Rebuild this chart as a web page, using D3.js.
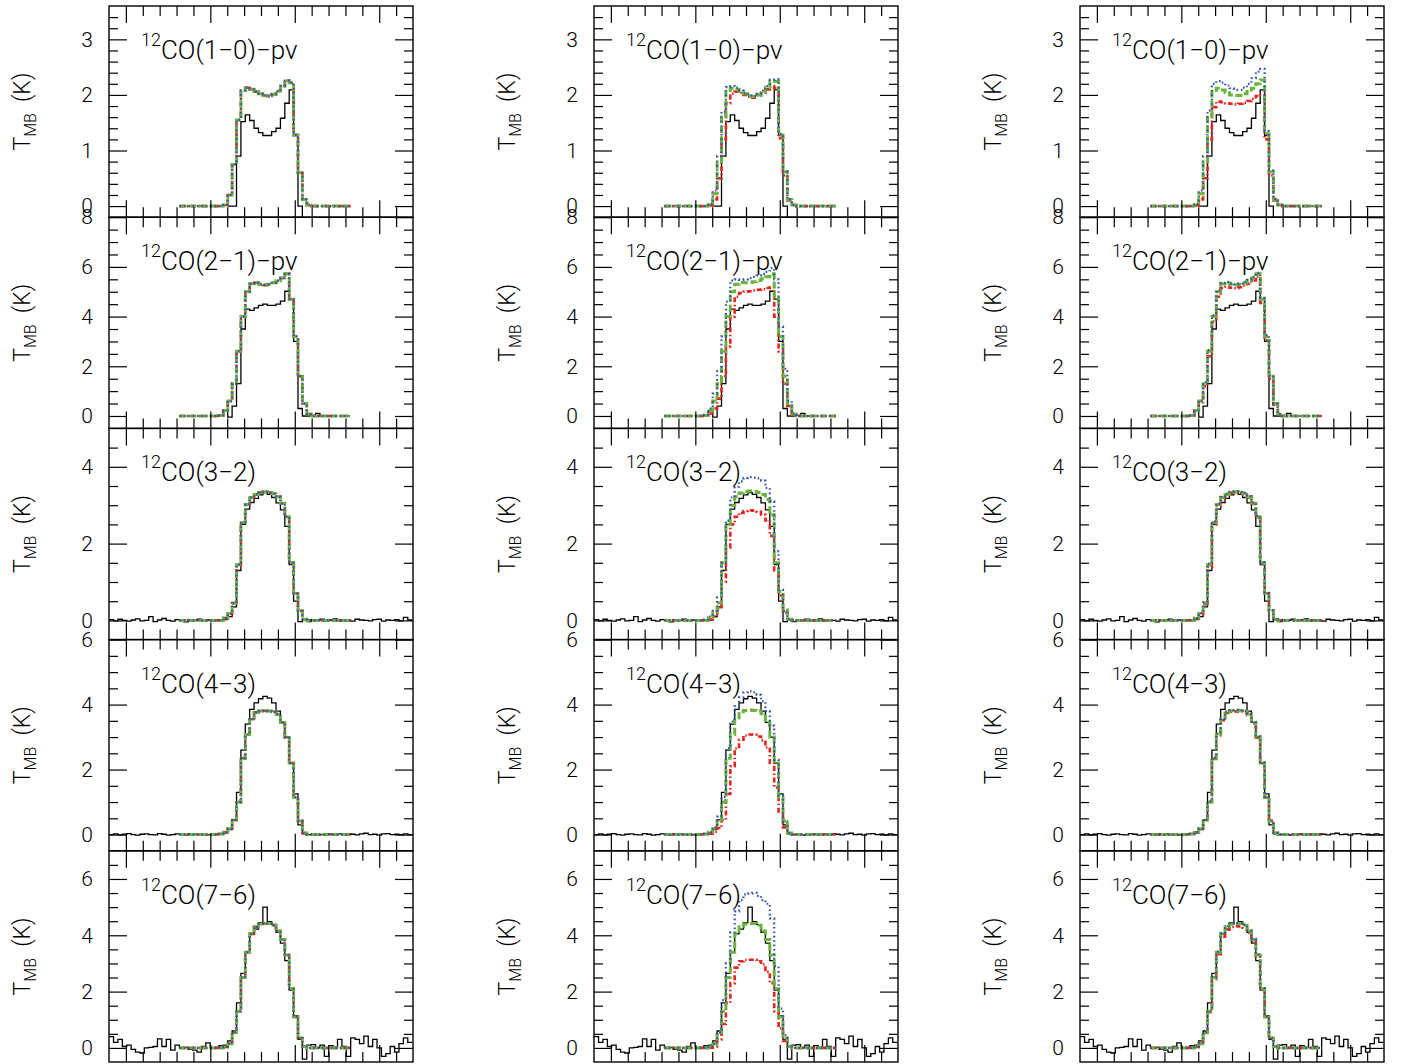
<!DOCTYPE html>
<html><head><meta charset="utf-8">
<script src="https://cdn.jsdelivr.net/npm/d3@7"></script>
<style>
body{margin:0;background:#fff}
svg{display:block}
text{font-family:Roboto,"Liberation Sans",Arial,sans-serif;font-weight:300;fill:#000}
</style>
</head><body>
<svg id="chart" width="1405" height="1064"></svg>
<script>
// ---------------- data ----------------
const rowTransitions = ["1\u22120","2\u22121","3\u22122","4\u22123","7\u22126"];
const rowSuffix = ["\u2212pv","\u2212pv","","",""];
const yDomains = [[-0.2,3.6],[-0.5,8],[-0.5,5],[-0.5,6],[-0.5,7]];
const yMajorTicks = [[0,1,2,3],[0,2,4,6,8],[0,2,4],[0,2,4,6],[0,2,4,6]];
const yMinorStep = [0.2,0.5,0.5,0.5,0.5];
const xDomain = [-12,24];
const xMajorTicks = [-10,0,10,20];
const xMinorTicks = [-8,-6,-4,-2,2,4,6,8,12,14,16,18,22];
const chanWidth = 0.52;
const obsStart = [2.32, 0.76, -11.72, -11.72, -11.72];
const modelStart = -3.4;

// observed spectra (black histograms), shared by the three columns
const obs10 = [0,0,0.90,1.52,1.64,1.54,1.40,1.32,1.27,1.27,1.34,1.40,1.58,1.85,2.09,1.27,0,-0.5];
const obs21 = [0,0.02,0.20,-0.05,0.40,1.30,3.50,4.30,4.25,4.35,4.45,4.50,4.45,4.45,4.50,4.62,5.02,4.70,3.00,0.30,0,0,0.02,0.10,0];
const obs32 = [0.02,-0.01,0.03,0.00,-0.02,0.01,0.04,-0.01,0.00,0.10,-0.03,0.01,0.05,0.00,-0.02,0.02,0.01,-0.04,0.02,0.00,0.03,-0.01,0.01,-0.02,0.02,0.00,
  0.02,0.10,0.35,1.30,2.50,2.90,3.07,3.18,3.27,3.33,3.28,3.20,3.06,2.88,2.45,1.45,0.50,-0.03,0.02,
  -0.03,0.02,0.00,0.03,-0.02,0.01,0.04,-0.01,0.02,0.00,-0.02,0.03,0.01,0.00,-0.01,0.02,0.03,-0.02,0.01,0.00,0.02,-0.01,0.08,0.01];
const obs43 = [0.00,0.02,-0.01,0.01,0.03,0.00,-0.02,0.01,0.02,0.00,-0.01,0.03,0.01,-0.02,0.00,0.02,0.01,-0.01,0.03,0.02,0.00,0.01,-0.01,0.02,0.03,0.02,
  0.05,0.15,0.45,1.30,2.60,3.40,3.85,4.05,4.18,4.25,4.20,4.05,3.80,3.45,3.00,2.20,1.25,0.30,0.02,
  0.00,0.01,-0.02,0.00,0.02,0.01,-0.01,0.02,0.00,0.03,0.01,-0.01,0.02,0.04,0.00,0.01,-0.02,0.02,0.03,0.00,0.01,-0.01,0.02,0.00];
const obs76 = [0.40,0.20,0.30,0.05,0.10,-0.05,-0.15,-0.18,0.00,0.02,0.05,0.32,0.05,0.30,-0.08,0.10,0.00,0.02,-0.05,-0.08,-0.15,0.05,0.18,0.00,0.02,0.08,
  0.10,0.25,0.60,1.60,2.65,3.40,4.05,4.22,4.45,5.00,4.48,4.38,4.10,3.72,3.10,2.05,1.15,0.30,-0.40,
  0.10,0.12,0.00,0.10,-0.30,0.08,0.02,0.30,0.05,-0.30,0.36,0.30,0.15,0.42,0.05,0.30,0.00,-0.30,-0.20,0.05,-0.15,0.15,0.36,0.20];

// model spectra (39 channels from modelStart)
const co10Left  = [0,0,0,0,0,0,0,0,0, 0,0.02,0.20,0.75,1.55,2.08,2.13,2.10,2.06,2.02,1.99,1.98,2.01,2.07,2.16,2.26,2.22,1.28,0.60,0.12,0.02,0, 0,0,0,0,0,0,0,0];
const co10MidR  = [0,0,0,0,0,0,0,0,0, 0,0.01,0.12,0.50,1.20,1.85,2.02,2.06,2.04,2.00,1.97,1.95,1.99,2.04,2.10,2.16,2.12,1.22,0.55,0.10,0.02,0, 0,0,0,0,0,0,0,0];
const co10MidG  = [0,0,0,0,0,0,0,0,0, 0,0.03,0.22,0.80,1.60,2.08,2.12,2.10,2.06,2.02,1.98,1.97,2.00,2.06,2.14,2.24,2.24,1.28,0.62,0.12,0.02,0, 0,0,0,0,0,0,0,0];
const co10MidB  = [0,0,0,0,0,0,0,0,0, 0,0.04,0.28,0.90,1.70,2.14,2.16,2.13,2.08,2.03,1.99,1.98,2.02,2.08,2.16,2.27,2.28,1.30,0.62,0.12,0.02,0, 0,0,0,0,0,0,0,0];
const co10RgtR  = [0,0,0,0,0,0,0,0,0, 0,0.01,0.12,0.50,1.20,1.78,1.88,1.87,1.85,1.84,1.83,1.84,1.86,1.89,1.93,1.98,2.00,1.20,0.55,0.10,0.02,0, 0,0,0,0,0,0,0,0];
const co10RgtG  = [0,0,0,0,0,0,0,0,0, 0,0.03,0.22,0.80,1.60,2.05,2.12,2.09,2.04,2.00,1.99,1.99,2.02,2.06,2.12,2.20,2.27,1.30,0.62,0.12,0.02,0, 0,0,0,0,0,0,0,0];
const co10RgtB  = [0,0,0,0,0,0,0,0,0, 0,0.04,0.28,0.90,1.72,2.20,2.25,2.22,2.17,2.12,2.09,2.09,2.13,2.20,2.30,2.42,2.47,1.35,0.64,0.13,0.02,0, 0,0,0,0,0,0,0,0];

const co21Left  = [0,0,0,0,0,0,0,0,0, 0.02,0.22,0.60,1.30,2.60,4.00,5.00,5.32,5.36,5.30,5.27,5.30,5.36,5.44,5.55,5.72,4.70,3.20,1.60,0.50,0.08,0, 0,0,0,0,0,0,0,0];
const co21MidR  = [0,0,0,0,0,0,0,0,0, 0.01,0.10,0.30,0.70,1.60,2.80,4.00,4.80,4.95,5.00,5.02,5.05,5.08,5.10,5.15,5.18,4.00,2.60,1.30,0.40,0.05,0, 0,0,0,0,0,0,0,0];
const co21MidG  = [0,0,0,0,0,0,0,0,0, 0.02,0.22,0.60,1.30,2.60,4.00,5.00,5.30,5.37,5.36,5.37,5.40,5.45,5.52,5.60,5.72,4.80,3.20,1.60,0.50,0.08,0, 0,0,0,0,0,0,0,0];
const co21MidB  = [0,0,0,0,0,0,0,0,0, 0.05,0.30,0.90,1.80,3.20,4.60,5.45,5.50,5.48,5.50,5.55,5.60,5.65,5.72,5.80,5.95,5.50,3.60,1.90,0.60,0.10,0, 0,0,0,0,0,0,0,0];
const co21RgtR  = [0,0,0,0,0,0,0,0,0, 0.02,0.20,0.55,1.20,2.40,3.80,4.80,5.15,5.20,5.16,5.14,5.18,5.24,5.32,5.45,5.62,4.55,3.05,1.50,0.45,0.07,0, 0,0,0,0,0,0,0,0];
const co21RgtG  = [0,0,0,0,0,0,0,0,0, 0.02,0.22,0.60,1.30,2.60,4.00,5.00,5.32,5.36,5.30,5.27,5.30,5.36,5.44,5.55,5.72,4.70,3.20,1.60,0.50,0.08,0, 0,0,0,0,0,0,0,0];
const co21RgtB  = [0,0,0,0,0,0,0,0,0, 0.02,0.23,0.62,1.35,2.65,4.05,5.05,5.36,5.40,5.34,5.30,5.33,5.40,5.48,5.60,5.76,4.75,3.25,1.62,0.50,0.08,0, 0,0,0,0,0,0,0,0];

const co32Left  = [0,0,0,0,0,0,0,0,0, 0,0.06,0.18,0.45,1.45,2.55,3.02,3.20,3.28,3.33,3.35,3.33,3.30,3.22,3.05,2.70,1.50,0.70,0.25,0.03,0,0, 0,0,0,0,0,0,0,0];
const co32MidR  = [0,0,0,0,0,0,0,0,0, 0,0.02,0.10,0.30,1.00,1.90,2.50,2.70,2.80,2.85,2.87,2.86,2.83,2.75,2.60,2.20,1.30,0.65,0.20,0.02,0,0, 0,0,0,0,0,0,0,0];
const co32MidG  = [0,0,0,0,0,0,0,0,0, 0,0.07,0.20,0.45,1.50,2.50,3.00,3.22,3.32,3.36,3.37,3.36,3.33,3.28,3.15,2.75,1.50,0.75,0.28,0.03,0,0, 0,0,0,0,0,0,0,0];
const co32MidB  = [0,0,0,0,0,0,0,0,0, 0.02,0.10,0.25,0.60,1.50,2.60,3.20,3.48,3.62,3.71,3.73,3.72,3.70,3.64,3.45,3.10,1.80,0.80,0.25,0.03,0,0, 0,0,0,0,0,0,0,0];
const co32RgtR  = [0,0,0,0,0,0,0,0,0, 0,0.05,0.16,0.42,1.40,2.50,2.98,3.18,3.27,3.32,3.34,3.32,3.28,3.20,3.03,2.68,1.48,0.70,0.25,0.03,0,0, 0,0,0,0,0,0,0,0];
const co32RgtG  = [0,0,0,0,0,0,0,0,0, 0,0.06,0.18,0.45,1.45,2.55,3.02,3.20,3.28,3.33,3.35,3.33,3.30,3.22,3.05,2.70,1.50,0.70,0.25,0.03,0,0, 0,0,0,0,0,0,0,0];
const co32RgtB  = [0,0,0,0,0,0,0,0,0, 0,0.06,0.19,0.47,1.48,2.58,3.04,3.22,3.30,3.35,3.36,3.35,3.32,3.24,3.07,2.72,1.52,0.72,0.26,0.03,0,0, 0,0,0,0,0,0,0,0];

const co43Left  = [0,0,0,0,0,0,0,0,0, 0.02,0.07,0.18,0.45,1.00,2.35,3.08,3.55,3.76,3.80,3.81,3.80,3.78,3.70,3.45,3.00,2.20,1.15,0.42,0.05,0,0, 0,0,0,0,0,0,0,0];
const co43MidR  = [0,0,0,0,0,0,0,0,0, 0.01,0.03,0.08,0.20,0.45,1.25,2.10,2.65,2.92,3.05,3.08,3.07,3.02,2.90,2.68,2.20,1.45,0.70,0.22,0.04,0,0, 0,0,0,0,0,0,0,0];
const co43MidG  = [0,0,0,0,0,0,0,0,0, 0.02,0.07,0.18,0.45,1.00,2.35,3.08,3.55,3.78,3.82,3.83,3.82,3.80,3.72,3.45,3.00,2.20,1.15,0.42,0.05,0,0, 0,0,0,0,0,0,0,0];
const co43MidB  = [0,0,0,0,0,0,0,0,0, 0.02,0.08,0.22,0.55,1.15,2.65,3.48,3.95,4.22,4.38,4.41,4.38,4.30,4.10,3.80,3.35,2.30,1.20,0.40,0.05,0,0, 0,0,0,0,0,0,0,0];
const co43RgtR  = [0,0,0,0,0,0,0,0,0, 0.02,0.07,0.18,0.45,1.00,2.33,3.06,3.52,3.74,3.78,3.79,3.78,3.76,3.68,3.43,2.98,2.18,1.14,0.42,0.05,0,0, 0,0,0,0,0,0,0,0];
const co43RgtG  = [0,0,0,0,0,0,0,0,0, 0.02,0.07,0.18,0.45,1.00,2.35,3.08,3.55,3.77,3.81,3.82,3.81,3.79,3.71,3.45,3.00,2.20,1.15,0.42,0.05,0,0, 0,0,0,0,0,0,0,0];
const co43RgtB  = [0,0,0,0,0,0,0,0,0, 0.02,0.07,0.18,0.46,1.02,2.37,3.10,3.57,3.79,3.83,3.84,3.83,3.81,3.73,3.47,3.02,2.22,1.16,0.43,0.05,0,0, 0,0,0,0,0,0,0,0];

const co76Left  = [0,0,0,0,0,0,0,0,0, 0,0.03,0.15,0.55,1.30,2.50,3.40,4.05,4.30,4.40,4.42,4.42,4.36,4.15,3.85,3.30,2.10,1.10,0.35,0.05,0,0, 0,0,0,0,0,0,0,0];
const co76MidR  = [0,0,0,0,0,0,0,0,0, 0,0.01,0.05,0.30,0.85,1.60,2.30,2.85,3.08,3.12,3.13,3.13,3.08,2.96,2.70,2.30,1.30,0.70,0.25,0.05,0,0, 0,0,0,0,0,0,0,0];
const co76MidG  = [0,0,0,0,0,0,0,0,0, 0,0.03,0.15,0.55,1.30,2.50,3.40,4.05,4.30,4.40,4.42,4.42,4.36,4.15,3.85,3.30,2.10,1.10,0.35,0.05,0,0, 0,0,0,0,0,0,0,0];
const co76MidB  = [0,0,0,0,0,0,0,0,0, 0,0.05,0.15,0.55,1.70,3.00,4.10,4.85,5.25,5.45,5.48,5.51,5.40,5.25,5.12,4.60,2.90,1.40,0.45,0.05,0,0, 0,0,0,0,0,0,0,0];
const co76RgtR  = [0,0,0,0,0,0,0,0,0, 0,0.03,0.15,0.53,1.27,2.45,3.33,3.95,4.20,4.30,4.32,4.31,4.27,4.08,3.80,3.26,2.08,1.08,0.35,0.05,0,0, 0,0,0,0,0,0,0,0];
const co76RgtG  = [0,0,0,0,0,0,0,0,0, 0,0.03,0.15,0.55,1.30,2.50,3.40,4.05,4.30,4.40,4.42,4.42,4.36,4.15,3.85,3.30,2.10,1.10,0.35,0.05,0,0, 0,0,0,0,0,0,0,0];
const co76RgtB  = [0,0,0,0,0,0,0,0,0, 0,0.03,0.16,0.56,1.32,2.52,3.42,4.07,4.32,4.42,4.44,4.44,4.38,4.17,3.87,3.32,2.12,1.11,0.36,0.05,0,0, 0,0,0,0,0,0,0,0];

// ---------------- layout ----------------
const colLeft = [109, 594, 1080];
const panelW = 304;
const top0 = 6;
const panelH = 211.2;

const obsByRow = [obs10, obs21, obs32, obs43, obs76];
const modelsByRow = [
  [[co10Left,co10Left,co10Left],[co10MidR,co10MidG,co10MidB],[co10RgtR,co10RgtG,co10RgtB]],
  [[co21Left,co21Left,co21Left],[co21MidR,co21MidG,co21MidB],[co21RgtR,co21RgtG,co21RgtB]],
  [[co32Left,co32Left,co32Left],[co32MidR,co32MidG,co32MidB],[co32RgtR,co32RgtG,co32RgtB]],
  [[co43Left,co43Left,co43Left],[co43MidR,co43MidG,co43MidB],[co43RgtR,co43RgtG,co43RgtB]],
  [[co76Left,co76Left,co76Left],[co76MidR,co76MidG,co76MidB],[co76RgtR,co76RgtG,co76RgtB]]
];
const modelStyles = [
  {color:"#e8231e", width:2.6, dash:"5,2.5,1.5,2.5"},   // red dash-dot
  {color:"#6ab43c", width:3.0, dash:"7,3"},            // green dashed
  {color:"#3553a8", width:2.2, dash:"1.6,2.8"}         // blue dotted
];

const svg = d3.select("#chart");

function stepPts(vals, start){
  const pts = vals.map((t,i)=>[start + i*chanWidth - chanWidth/2, t]);
  pts.push([start + (vals.length-1)*chanWidth + chanWidth/2, vals[vals.length-1]]);
  return pts;
}

for (let r=0; r<5; r++){
  for (let c=0; c<3; c++){
    const x0 = colLeft[c], y0 = top0 + r*panelH;
    const g = svg.append("g").attr("transform", `translate(${x0},${y0})`);
    const x = d3.scaleLinear().domain(xDomain).range([0, panelW]);
    const y = d3.scaleLinear().domain(yDomains[r]).range([panelH, 0]);
    const clipId = `clip-${r}-${c}`;
    g.append("clipPath").attr("id", clipId).append("rect")
      .attr("x",0).attr("y",0).attr("width",panelW).attr("height",panelH);

    const line = d3.line().x(d=>x(d[0])).y(d=>y(d[1])).curve(d3.curveStepAfter);
    const plot = g.append("g").attr("clip-path", `url(#${clipId})`);

    plot.append("path").attr("d", line(stepPts(obsByRow[r], obsStart[r])))
      .attr("fill","none").attr("stroke","#000").attr("stroke-width",1.3);
    modelsByRow[r][c].forEach((vals,k)=>{
      const s = modelStyles[k];
      plot.append("path").attr("d", line(stepPts(vals, modelStart)))
        .attr("fill","none").attr("stroke",s.color).attr("stroke-width",s.width)
        .attr("stroke-dasharray",s.dash);
    });

    const [d0,d1] = yDomains[r];
    const minorY = d3.range(Math.ceil(d0/yMinorStep[r])*yMinorStep[r], d1+1e-9, yMinorStep[r])
      .map(v=>+v.toFixed(3))
      .filter(v=>!yMajorTicks[r].includes(v) && v>d0+1e-6 && v<d1-1e-6);
    const majY = yMajorTicks[r].filter(v=>v>=d0 && v<=d1);

    function styleAxis(sel){
      sel.select(".domain").remove();
      sel.selectAll(".tick line").attr("stroke","#000").attr("stroke-width",1.2);
    }
    g.append("g").call(d3.axisLeft(y).tickValues(majY).tickSize(-18).tickPadding(16).tickFormat(d3.format("d")))
      .call(styleAxis)
      .call(s=>s.selectAll("text").attr("font-size",21).attr("font-family",null).attr("fill","#000"));
    g.append("g").call(d3.axisLeft(y).tickValues(minorY).tickSize(-9).tickFormat("")).call(styleAxis);
    g.append("g").attr("transform",`translate(${panelW},0)`)
      .call(d3.axisRight(y).tickValues(majY).tickSize(-18).tickFormat("")).call(styleAxis);
    g.append("g").attr("transform",`translate(${panelW},0)`)
      .call(d3.axisRight(y).tickValues(minorY).tickSize(-9).tickFormat("")).call(styleAxis);
    g.append("g").call(d3.axisTop(x).tickValues(xMajorTicks).tickSize(-17).tickFormat("")).call(styleAxis);
    g.append("g").call(d3.axisTop(x).tickValues(xMinorTicks).tickSize(-10).tickFormat("")).call(styleAxis);
    g.append("g").attr("transform",`translate(0,${panelH})`)
      .call(d3.axisBottom(x).tickValues(xMajorTicks).tickSize(-17).tickFormat("")).call(styleAxis);
    g.append("g").attr("transform",`translate(0,${panelH})`)
      .call(d3.axisBottom(x).tickValues(xMinorTicks).tickSize(-10).tickFormat("")).call(styleAxis);

    g.append("rect").attr("width",panelW).attr("height",panelH)
      .attr("fill","none").attr("stroke","#000").attr("stroke-width",1.4);

    const lab = g.append("text").attr("x",32).attr("y",53).attr("font-size",26);
    lab.append("tspan").attr("font-size",18).attr("dy",-13).text("12");
    lab.append("tspan").attr("dy",13).text("CO(" + rowTransitions[r] + ")" + rowSuffix[r]);

    const yt = g.append("text")
      .attr("transform",`translate(-79,${panelH/2}) rotate(-90)`)
      .attr("text-anchor","middle").attr("font-size",23);
    yt.append("tspan").text("T");
    yt.append("tspan").attr("font-size",16).attr("dy",6).text("MB");
    yt.append("tspan").attr("dy",-6).text("\u00a0\u00a0(K)");
  }
}
</script>
</body></html>
